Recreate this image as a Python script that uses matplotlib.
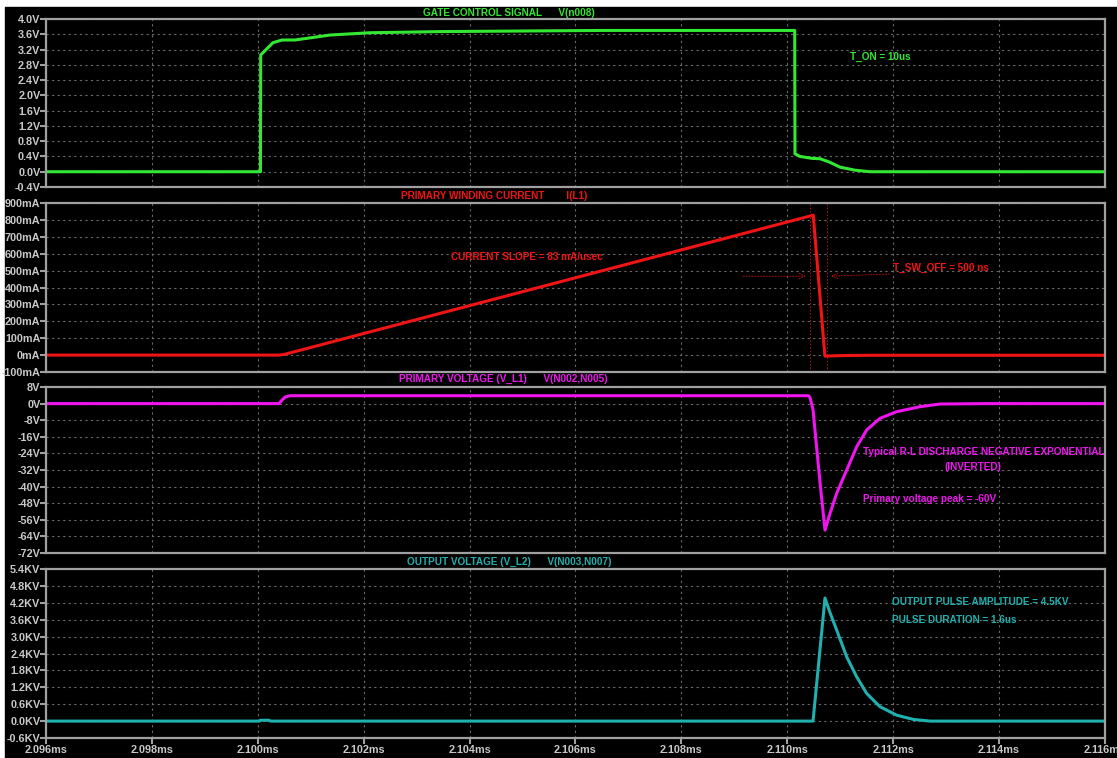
import numpy as np
import matplotlib.pyplot as plt
from matplotlib.patches import Rectangle
from matplotlib.ticker import FuncFormatter

plt.rcParams['font.family'] = ['Liberation Sans', 'DejaVu Sans']

# ----- data (time in ms) -----
t_gate = [2.096, 2.10005, 2.100055, 2.100287, 2.100457, 2.100703, 2.101364, 2.102119,
          2.103441, 2.106463, 2.11014, 2.110145, 2.11024, 2.11047, 2.11062, 2.1108,
          2.110995, 2.11128, 2.11156, 2.116]
v_gate = [0.0, 0.0, 3.06, 3.38, 3.45, 3.45, 3.58, 3.64,
          3.67, 3.70, 3.70, 0.47, 0.40, 0.35, 0.34, 0.25,
          0.12, 0.04, 0.0, 0.0]

t_cur = [2.096, 2.10040, 2.10050, 2.11049, 2.11071, 2.11080, 2.11100, 2.11160, 2.116]
i_cur = [0, 0, 4, 828, -6, -5, -3, -1, -1]  # mA

t_vp = [2.096, 2.10040, 2.10045, 2.10052, 2.10061, 2.11040, 2.110429, 2.110486, 2.110542,
        2.110618, 2.110712, 2.110807, 2.110933, 2.111122, 2.111311, 2.111500, 2.111751,
        2.112066, 2.112506, 2.112884, 2.113766, 2.116]
v_vp = [0, 0, 1.5, 3.2, 3.8, 3.8, 3.0, -3, -18,
        -38, -61, -52.9, -43.2, -32.0, -20.8, -12.7, -7.1,
        -3.9, -1.5, -0.2, 0, 0]

t_out = [2.096, 2.10003, 2.10005, 2.1002, 2.10025, 2.110486, 2.110712, 2.110807, 2.110933,
         2.111122, 2.111311, 2.111500, 2.111751, 2.112066, 2.112380, 2.112695, 2.116]
v_out = [0, 0, 0.03, 0.03, 0, 0, 4.37, 3.85, 3.23,
         2.28, 1.57, 0.98, 0.51, 0.21, 0.06, 0.0, 0]  # KV

x_ticks = [2.096, 2.098, 2.100, 2.102, 2.104, 2.106, 2.108, 2.110, 2.112, 2.114, 2.116]

GREEN = '#33e833'
RED = '#f01414'
MAG = '#f014f0'
CYAN = '#20b0b0'
SPINE = '#a0a0a0'
LABEL = '#c8c8c8'
FS = 7.2

W, H = 1117, 758
fig = plt.figure(figsize=(W / 100, H / 100), dpi=100, facecolor='white')
fig.add_artist(Rectangle((5 / W, 0), 1, 751 / H, transform=fig.transFigure,
                         color='black', zorder=-5))


def make_axes(top, bottom):
    ax = fig.add_axes([46 / W, 1 - bottom / H, 1059 / W, (bottom - top) / H])
    ax.set_facecolor('black')
    for s in ax.spines.values():
        s.set_color(SPINE)
        s.set_linewidth(1.6)
    ax.set_xlim(2.096, 2.116)
    ax.set_xticks(x_ticks)
    ax.grid(True, color='#6a6a6a', linestyle=(0, (2, 3)), linewidth=0.8)
    ax.tick_params(axis='y', colors=SPINE, labelcolor=LABEL, length=4, width=1.5,
                   pad=0, labelsize=7.8)
    ax.tick_params(axis='x', colors=SPINE, labelcolor=LABEL, length=0,
                   labelbottom=False, labelsize=7.8)
    for lab in ax.get_yticklabels():
        lab.set_fontweight('bold')
    return ax


def title(x, y, text, color):
    fig.text(x / W, 1 - y / H, text, color=color, fontsize=FS, fontweight='bold',
             ha='left', va='center')


# ----- gate signal -----
ax1 = make_axes(19, 187)
ax1.plot(t_gate, v_gate, color=GREEN, lw=2.2)
ax1.set_ylim(-0.4, 4.0)
ax1.set_yticks(np.arange(-0.4, 4.01, 0.4))
ax1.yaxis.set_major_formatter(FuncFormatter(lambda v, p: f"{v:.1f}V"))
title(423, 13, "GATE CONTROL SIGNAL      V(n008)", GREEN)
ax1.text(2.11118, 3.0, "T_ON = 10us", color=GREEN, fontsize=FS, fontweight='bold', va='center')

# ----- primary current -----
ax2 = make_axes(203, 372)
ax2.plot(t_cur, i_cur, color=RED, lw=2.2)
ax2.set_ylim(-100, 900)
ax2.set_yticks(np.arange(-100, 901, 100))
ax2.yaxis.set_major_formatter(FuncFormatter(lambda v, p: f"{int(round(v))}mA"))
title(401, 196, "PRIMARY WINDING CURRENT        I(L1)", RED)
ax2.text(2.10365, 580, "CURRENT SLOPE = 83 mA/usec", color=RED, fontsize=FS,
         fontweight='bold', va='center')
ax2.text(2.112, 515, "T_SW_OFF = 500 ns", color=RED, fontsize=FS, fontweight='bold', va='center')
for xv in (2.110429, 2.110750):
    ax2.axvline(xv, color=RED, lw=0.7, linestyle=(0, (1.5, 2)), alpha=0.8)
ax2.annotate("", xy=(2.11040, 467), xytext=(2.10911, 467),
             arrowprops=dict(arrowstyle='->', color=RED, lw=0.6, linestyle=(0, (1.5, 2)), alpha=0.8))
ax2.annotate("", xy=(2.11078, 467), xytext=(2.11198, 480),
             arrowprops=dict(arrowstyle='->', color=RED, lw=0.6, linestyle=(0, (1.5, 2)), alpha=0.8))

# ----- primary voltage -----
ax3 = make_axes(387, 553)
ax3.plot(t_vp, v_vp, color=MAG, lw=2.2)
ax3.set_ylim(-72, 8)
ax3.set_yticks(np.arange(-72, 9, 8))
ax3.yaxis.set_major_formatter(FuncFormatter(lambda v, p: f"{int(round(v))}V"))
title(399, 379, "PRIMARY VOLTAGE (V_L1)      V(N002,N005)", MAG)
ax3.text(2.11143, -23.3, "Typical R-L DISCHARGE NEGATIVE EXPONENTIAL", color=MAG, fontsize=FS,
         fontweight='bold', va='center')
ax3.text(2.11351, -30.6, "(INVERTED)", color=MAG, fontsize=FS, fontweight='bold',
         va='center', ha='center')
ax3.text(2.11143, -46.0, "Primary voltage peak = -60V", color=MAG, fontsize=FS,
         fontweight='bold', va='center')

# ----- output voltage -----
ax4 = make_axes(569, 738)
ax4.plot(t_out, v_out, color=CYAN, lw=2.2)
ax4.set_ylim(-0.6, 5.4)
ax4.set_yticks(np.arange(-0.6, 5.41, 0.6))
ax4.yaxis.set_major_formatter(FuncFormatter(lambda v, p: f"{v:.1f}KV"))
ax4.tick_params(axis='x', length=4, width=1.5, labelbottom=True, pad=1)
ax4.xaxis.set_major_formatter(FuncFormatter(lambda v, p: f"{v:.3f}ms"))
for lab in ax4.get_xticklabels():
    lab.set_fontweight('bold')
title(407, 562, "OUTPUT VOLTAGE (V_L2)      V(N003,N007)", CYAN)
ax4.text(2.11198, 4.22, "OUTPUT PULSE AMPLITUDE = 4.5KV", color=CYAN, fontsize=FS,
         fontweight='bold', va='center')
ax4.text(2.11198, 3.59, "PULSE DURATION = 1.6us", color=CYAN, fontsize=FS,
         fontweight='bold', va='center')

fig.savefig('out.png', dpi=100, facecolor=fig.get_facecolor())
